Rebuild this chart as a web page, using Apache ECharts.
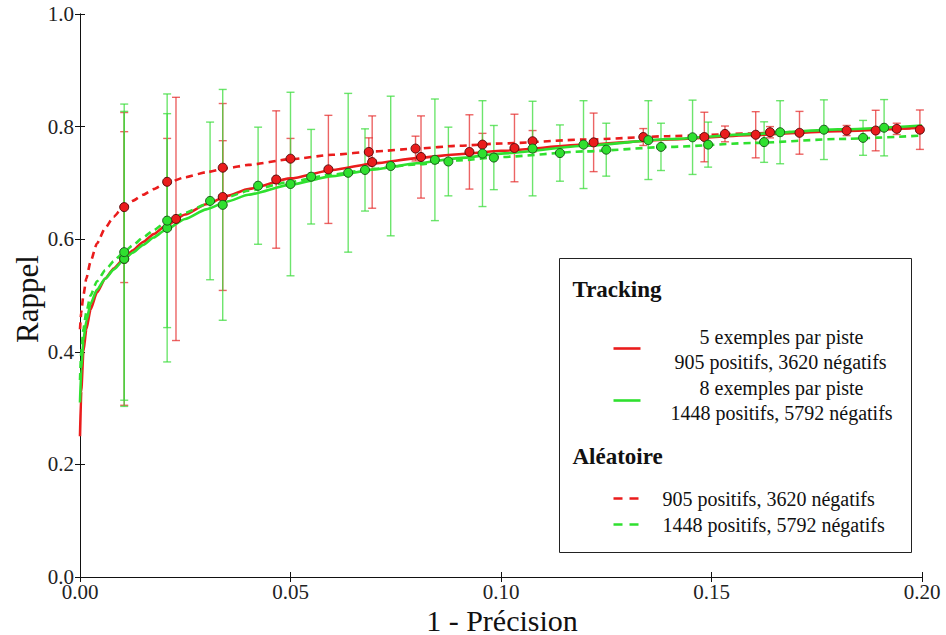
<!DOCTYPE html>
<html>
<head>
<meta charset="utf-8">
<title>Rappel vs 1 - Précision</title>
<script src="https://cdn.jsdelivr.net/npm/echarts@6/dist/echarts.min.js"></script>
<style>
  html, body { margin: 0; padding: 0; background: #fff; }
  #chart { width: 946px; height: 635px; }
</style>
</head>
<body>
<div id="chart"></div>
<script>
// Measured points: [1 - précision, rappel, half-width of the error bar]
const trackingFive = [
  [0.0105, 0.565, 0.260], [0.0228, 0.636, 0.216], [0.0339, 0.675, 0.166],
  [0.0466, 0.706, 0.122], [0.0590, 0.724, 0.096], [0.0694, 0.737, 0.082],
  [0.0810, 0.746, 0.073], [0.0925, 0.755, 0.066], [0.1032, 0.762, 0.060],
  [0.1220, 0.772, 0.052], [0.1483, 0.7815, 0.044], [0.1605, 0.7855, 0.041],
  [0.1709, 0.789, 0.038], [0.1890, 0.793, 0.036], [0.1995, 0.7945, 0.035]
];
const trackingEight = [
  [0.0105, 0.565, 0.262], [0.0207, 0.620, 0.238], [0.0339, 0.661, 0.205],
  [0.0500, 0.698, 0.163], [0.0637, 0.718, 0.141], [0.0738, 0.730, 0.124],
  [0.0843, 0.741, 0.108], [0.0956, 0.752, 0.094], [0.1075, 0.761, 0.084],
  [0.1196, 0.768, 0.078], [0.1350, 0.776, 0.070], [0.1455, 0.781, 0.066],
  [0.1663, 0.790, 0.056], [0.1767, 0.7945, 0.053], [0.1910, 0.798, 0.050]
];
const randomFive = [
  [0.0105, 0.657, 0.134], [0.0207, 0.702, 0.077], [0.0339, 0.727, 0.048],
  [0.0500, 0.743, 0.036], [0.0686, 0.755, 0.025], [0.0797, 0.761, 0.022],
  [0.0956, 0.768, 0.020], [0.1075, 0.774, 0.019], [0.1338, 0.7815, 0.015],
  [0.1532, 0.787, 0.014], [0.1639, 0.790, 0.010], [0.1821, 0.793, 0.009],
  [0.1940, 0.796, 0.010]
];
const randomEight = [
  [0.0105, 0.577, 0.263], [0.0207, 0.633, 0.190], [0.0309, 0.668, 0.140],
  [0.0423, 0.695, 0.104], [0.0549, 0.711, 0.084], [0.0677, 0.723, 0.073],
  [0.0875, 0.738, 0.061], [0.0983, 0.745, 0.057], [0.1140, 0.753, 0.050],
  [0.1250, 0.759, 0.047], [0.1380, 0.764, 0.042], [0.1492, 0.768, 0.040],
  [0.1625, 0.7725, 0.036], [0.1860, 0.780, 0.031]
];

// Fitted curves, sampled at shared abscissae
const fitX = [
  0, 0.0003, 0.0008, 0.0015, 0.0025, 0.004, 0.006, 0.008, 0.01, 0.0125,
  0.015, 0.0175, 0.02, 0.025, 0.03, 0.035, 0.04, 0.05, 0.06, 0.07,
  0.08, 0.09, 0.10, 0.12, 0.14, 0.16, 0.18, 0.20
];
const fitTrackingFive = [
  0.25, 0.33, 0.40, 0.44, 0.475, 0.505, 0.530, 0.548, 0.562, 0.580,
  0.595, 0.609, 0.622, 0.644, 0.662, 0.677, 0.689, 0.708, 0.723, 0.735,
  0.744, 0.751, 0.757, 0.768, 0.777, 0.785, 0.792, 0.798
];
const fitTrackingEight = [
  0.31, 0.37, 0.42, 0.455, 0.485, 0.51, 0.530, 0.546, 0.560, 0.576,
  0.590, 0.603, 0.615, 0.636, 0.653, 0.667, 0.679, 0.697, 0.712, 0.724,
  0.735, 0.744, 0.752, 0.766, 0.778, 0.787, 0.795, 0.802
];
const fitRandomFive = [
  0.44, 0.47, 0.50, 0.53, 0.56, 0.592, 0.620, 0.640, 0.655, 0.668,
  0.679, 0.689, 0.698, 0.710, 0.719, 0.726, 0.732, 0.742, 0.750, 0.756,
  0.761, 0.766, 0.770, 0.777, 0.783, 0.788, 0.793, 0.798
];
const fitRandomEight = [
  0.35, 0.40, 0.44, 0.47, 0.50, 0.525, 0.545, 0.561, 0.574, 0.589,
  0.603, 0.616, 0.628, 0.647, 0.662, 0.675, 0.686, 0.702, 0.715, 0.725,
  0.733, 0.740, 0.746, 0.756, 0.764, 0.771, 0.778, 0.784
];

// Legend texts
const legendTracking = 'Tracking';
const legendRandom = 'Aléatoire';
const legendFiveA = '5 exemples par piste';
const legendFiveB = '905 positifs, 3620 négatifs';
const legendEightA = '8 exemples par piste';
const legendEightB = '1448 positifs, 5792 négatifs';

const RED = '#ea1c1c';
const GREEN = '#2fe02f';
const RED_BAR = 'rgba(228,40,40,0.72)';
const GREEN_BAR = 'rgba(60,220,60,0.75)';
const FONT = 'Liberation Serif';

function pairs(xs, ys) {
  return xs.map((x, i) => [x, ys[i]]);
}

function errorBars(points, color, name) {
  return {
    type: 'custom',
    name: name,
    z: 1,
    silent: true,
    data: points.map(p => [p[0], p[1] - p[2], p[1] + p[2]]),
    encode: { x: 0, y: [1, 2] },
    renderItem: function (params, api) {
      const x = api.value(0);
      const lo = api.coord([x, api.value(1)]);
      const hi = api.coord([x, api.value(2)]);
      const w = 4;
      const style = { stroke: color, lineWidth: 1.4, fill: null };
      return {
        type: 'group',
        children: [
          { type: 'line', shape: { x1: lo[0], y1: lo[1], x2: hi[0], y2: hi[1] }, style: style },
          { type: 'line', shape: { x1: lo[0] - w, y1: lo[1], x2: lo[0] + w, y2: lo[1] }, style: style },
          { type: 'line', shape: { x1: hi[0] - w, y1: hi[1], x2: hi[0] + w, y2: hi[1] }, style: style }
        ]
      };
    }
  };
}

function curve(ys, color, dashed) {
  return {
    type: 'line',
    z: 2,
    silent: true,
    data: pairs(fitX, ys),
    smooth: 0.2,
    smoothMonotone: 'x',
    showSymbol: false,
    lineStyle: { color: color, width: 2.6, type: dashed ? [7, 5] : 'solid' }
  };
}

function markers(points, fill, border) {
  return {
    type: 'scatter',
    z: 3,
    silent: true,
    data: points.map(p => [p[0], p[1]]),
    symbol: 'circle',
    symbolSize: 9,
    itemStyle: { color: fill, borderColor: border, borderWidth: 1, opacity: 1 }
  };
}

function legendText(x, y, text, size, bold, align) {
  return {
    type: 'text', x: x, y: y,
    style: {
      text: text, fill: '#111', align: align || 'left', verticalAlign: 'middle',
      font: (bold ? 'bold ' : '') + size + 'px ' + FONT
    }
  };
}

const axisLineStyle = { show: true, lineStyle: { color: '#111', width: 1 } };
const tickStyle = { show: true, inside: true, length: 5, lineStyle: { color: '#111', width: 1 } };
const labelStyle = { color: '#222', fontFamily: FONT, fontSize: 21 };

const chart = echarts.init(document.getElementById('chart'), null, { renderer: 'svg' });

const legendX = 559.5, legendY = 258.5;

chart.setOption({
  animation: false,
  backgroundColor: '#fff',
  textStyle: { fontFamily: FONT },
  grid: { left: 80, right: 24, top: 14, bottom: 58, containLabel: false },
  xAxis: [
    {
      type: 'value', min: 0, max: 0.2, interval: 0.05, position: 'bottom',
      axisLine: axisLineStyle, axisTick: tickStyle, splitLine: { show: false },
      axisLabel: Object.assign({ margin: 4, formatter: v => v.toFixed(2) }, labelStyle)
    },
    {
      type: 'value', min: 0, max: 0.2, interval: 0.05, position: 'top',
      axisLine: axisLineStyle, axisTick: tickStyle, splitLine: { show: false },
      axisLabel: { show: false }
    }
  ],
  yAxis: [
    {
      type: 'value', min: 0, max: 1, interval: 0.2, position: 'left',
      axisLine: axisLineStyle, axisTick: tickStyle, splitLine: { show: false },
      axisLabel: Object.assign({ margin: 6, formatter: v => v.toFixed(1) }, labelStyle)
    },
    {
      type: 'value', min: 0, max: 1, interval: 0.2, position: 'right',
      axisLine: axisLineStyle, axisTick: tickStyle, splitLine: { show: false },
      axisLabel: { show: false }
    }
  ],
  series: [
    errorBars(trackingFive, RED_BAR, 'bars-t5'),
    errorBars(randomFive, RED_BAR, 'bars-r5'),
    errorBars(trackingEight, GREEN_BAR, 'bars-t8'),
    errorBars(randomEight, GREEN_BAR, 'bars-r8'),
    curve(fitRandomFive, RED, true),
    curve(fitTrackingFive, RED, false),
    curve(fitRandomEight, GREEN, true),
    curve(fitTrackingEight, GREEN, false),
    markers(trackingFive, RED, '#5a0a0a'),
    markers(randomFive, RED, '#5a0a0a'),
    markers(trackingEight, GREEN, '#1a5a1a'),
    markers(randomEight, GREEN, '#1a5a1a')
  ],
  graphic: [
    {
      type: 'text', x: 27, y: 299, rotation: Math.PI / 2, z: 10,
      style: { text: 'Rappel', font: '31px ' + FONT, fill: '#111', align: 'center', verticalAlign: 'middle' }
    },
    {
      type: 'text', x: 502, y: 620, z: 10,
      style: { text: '1 - Précision', font: '30px ' + FONT, fill: '#111', align: 'center', verticalAlign: 'middle' }
    },
    {
      type: 'group', x: legendX, y: legendY, z: 20,
      children: [
        { type: 'rect', shape: { x: 0, y: 0, width: 352, height: 294 }, style: { fill: '#fff', stroke: '#222', lineWidth: 1 } },
        legendText(13, 31, legendTracking, 23, true),
        { type: 'line', shape: { x1: 54, y1: 90, x2: 81, y2: 90 }, style: { stroke: RED, lineWidth: 2.6 } },
        legendText(222, 78, legendFiveA, 20, false, 'center'),
        legendText(221, 103, legendFiveB, 20, false, 'center'),
        { type: 'line', shape: { x1: 54, y1: 142, x2: 81, y2: 142 }, style: { stroke: GREEN, lineWidth: 2.6 } },
        legendText(222, 129, legendEightA, 20, false, 'center'),
        legendText(222, 154, legendEightB, 20, false, 'center'),
        legendText(13, 198, legendRandom, 23, true),
        { type: 'line', shape: { x1: 54, y1: 240, x2: 79, y2: 240 }, style: { stroke: RED, lineWidth: 2.6, lineDash: [9, 7] } },
        legendText(103, 240, legendFiveB, 20, false),
        { type: 'line', shape: { x1: 54, y1: 266, x2: 79, y2: 266 }, style: { stroke: GREEN, lineWidth: 2.6, lineDash: [9, 7] } },
        legendText(103, 266, legendEightB, 20, false)
      ]
    }
  ]
});
</script>
</body>
</html>
